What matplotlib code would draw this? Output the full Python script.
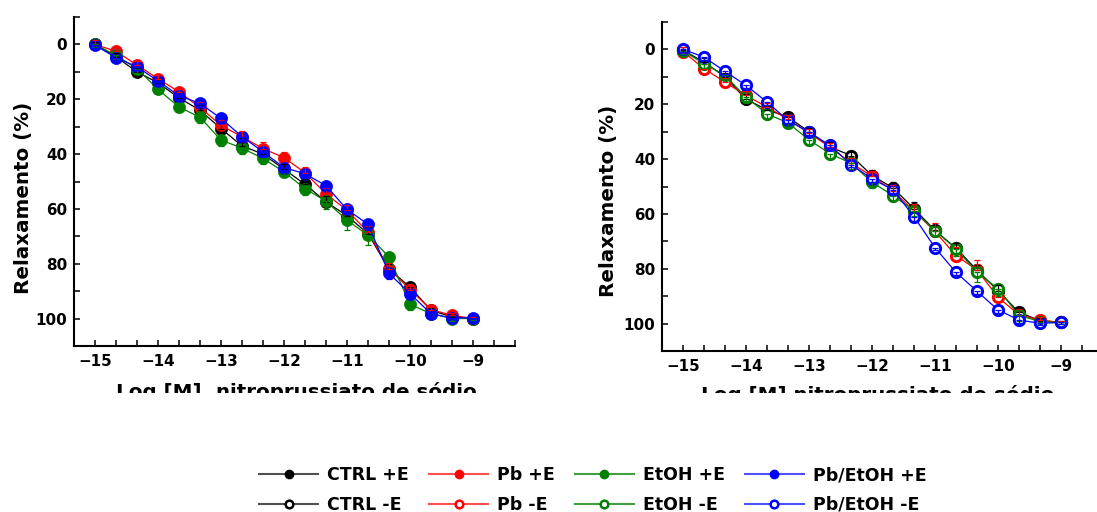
import numpy as np
import matplotlib.pyplot as plt
from matplotlib.lines import Line2D
from matplotlib.patches import Rectangle
from matplotlib.ticker import MultipleLocator

# log concentration of sodium nitroprusside (M)
log_conc = [-15.0, -14.667, -14.333, -14.0, -13.667, -13.333, -13.0, -12.667,
            -12.333, -12.0, -11.667, -11.333, -11.0, -10.667, -10.333, -10.0,
            -9.667, -9.333, -9.0]

groups = ["CTRL", "Pb", "EtOH", "Pb/EtOH"]
colors = ["#000000", "#ff0000", "#008000", "#0000ff"]
legend_line_colors = ["#505050", "#ff5050", "#40a040", "#5050ff"]

# +E (filled markers, left panel)
ctrl_pos = [0, 4.5, 10, 14, 19.5, 24, 30.7, 37, 40, 45.5, 51, 57.4, 62.5, 69, 82, 88.5, 97, 99.4, 100]
pb_pos = [0, 2.5, 7.5, 12.5, 17.3, 23, 29.5, 33.7, 38, 41.3, 46.8, 54.5, 60.5, 68.4, 81.8, 89.4, 96.7, 98.8, 100]
etoh_pos = [0, 4, 8.8, 16.4, 22.8, 26.6, 34.9, 37.8, 41.6, 46.5, 52.6, 57.2, 64.1, 69.6, 77.5, 94.8, 98.2, 100, 100]
pbetoh_pos = [0.3, 4.8, 8.2, 13.3, 18.7, 21.5, 27, 33.6, 39.2, 44.9, 47.2, 51.5, 60.2, 65.6, 83.5, 90.9, 98.2, 99.8, 99.7]

err_ctrl_pos = [1, 1.5, 1.5, 1.5, 2, 2, 2, 3, 2, 2, 2, 2, 2.5, 2.5, 2, 2, 1, 1, 0.5]
err_pb_pos = [1.5, 1.5, 1.5, 1.5, 1.5, 2, 2, 2, 2.5, 2, 2, 2, 2, 2, 2, 2, 1.5, 1, 0.5]
err_etoh_pos = [1, 1.5, 1.5, 1.5, 2, 2, 2, 2, 2, 2, 2.5, 3, 3.5, 3.5, 2, 2, 1, 1, 0.5]
err_pbetoh_pos = [1, 1, 1, 1, 1.5, 1.5, 1.5, 1.5, 1.5, 1.5, 1.5, 1.5, 1.5, 2, 2, 1.5, 1, 0.5, 0.5]

# -E (open markers, right panel)
ctrl_neg = [0.3, 4.6, 10, 18.2, 22, 24.7, 30, 35.6, 38.7, 46, 50.5, 58.1, 66, 72.5, 80.5, 88, 95.9, 98.9, 99.6]
pb_neg = [0.8, 7, 11.9, 16.8, 21, 25.5, 30.5, 35.6, 41.5, 46.2, 51.5, 59, 66.4, 75.2, 80.4, 90.4, 96.8, 98.7, 99.6]
etoh_neg = [0.5, 5.2, 9.5, 17.4, 23.5, 26.8, 33, 38, 41.5, 48.4, 53.3, 58.8, 66.1, 72.7, 81.3, 87.3, 97, 99.3, 99.6]
pbetoh_neg = [0, 2.8, 8, 13.1, 19.2, 25.9, 30.2, 35, 42, 47.2, 51.2, 61, 72.3, 81.3, 88.2, 95, 98.7, 99.9, 99.6]

err_ctrl_neg = [1, 1.5, 1.5, 2, 1.5, 1.5, 1.5, 2, 1.5, 2, 2, 2.5, 2, 2, 2, 2, 1.5, 1, 0.5]
err_pb_neg = [1.5, 1.5, 1.5, 1.5, 1.5, 1.5, 1.5, 1.5, 2, 2, 2, 2.5, 3, 3, 3.5, 3, 2, 1, 0.5]
err_etoh_neg = [1, 1.5, 1.5, 2, 2, 2, 2, 2, 2, 2, 2, 2, 2, 2.5, 3.5, 2.5, 2, 1, 0.5]
err_pbetoh_neg = [1, 1, 1, 1, 1, 1, 1, 1, 1, 1, 1, 1.5, 1, 1, 1, 1, 1, 0.5, 0.5]

y_ticks = [0, 20, 40, 60, 80, 100]
x_ticks = [-15, -14, -13, -12, -11, -10, -9]

plt.rcParams['font.family'] = 'DejaVu Sans'
plt.rcParams['font.weight'] = 'bold'

fig = plt.figure(figsize=(10.97, 5.12), dpi=100)
W, H = 1097.0, 512.0

# axes placed in pixels: left, top, width, height
ax1 = fig.add_axes([74 / W, 1 - 346 / H, 441 / W, 329 / H])
ax2 = fig.add_axes([662 / W, 1 - 351 / H, 441 / W, 329 / H])


def draw_panel(ax, series, errs, filled, err_down):
    for k, (vals, c) in enumerate(zip(series, colors)):
        if filled:
            ax.plot(log_conc, vals, color=c, lw=0.9, marker='o', ms=8.7,
                    mfc=c, mec=c, mew=0.5, zorder=2 + k)
        else:
            ax.plot(log_conc, vals, color=c, lw=0.9, marker='o', ms=7.4,
                    mfc='white', mec=c, mew=2.1, zorder=2 + k)
    # error bars drawn on top of the markers
    for k, (vals, e, c) in enumerate(zip(series, errs, colors)):
        zero = [0] * len(e)
        yerr = [zero, e] if err_down[k] else [e, zero]
        ax.errorbar(log_conc, vals, yerr=yerr, fmt='none', ecolor=c,
                    elinewidth=0.9, capsize=2.5, capthick=0.9, zorder=10 + k)


def style_axes(ax, xlabel, xlab_x, xlab_y, ylab_x, ylab_y):
    ax.set_xlim(-15.333, -8.333)
    ax.set_ylim(110, -10)
    ax.set_yticks(y_ticks)
    ax.yaxis.set_minor_locator(MultipleLocator(10))
    ax.set_xticks(x_ticks)
    ax.xaxis.set_minor_locator(MultipleLocator(1 / 3))
    for s in ['top', 'right']:
        ax.spines[s].set_visible(False)
    for s in ['left', 'bottom']:
        ax.spines[s].set_linewidth(1.5)
    ax.tick_params(which='both', direction='in', length=4.3, width=1.1,
                   labelsize=10.9)
    ax.tick_params(axis='y', pad=5)
    ax.tick_params(axis='x', pad=5.5)
    for lab in ax.get_xticklabels() + ax.get_yticklabels():
        lab.set_fontweight('bold')
    ax.set_ylabel("Relaxamento (%)", fontsize=14.3, fontweight='bold')
    ax.set_xlabel(xlabel, fontsize=14.3, fontweight='bold')
    ax.xaxis.set_label_coords(xlab_x, xlab_y)
    ax.yaxis.set_label_coords(ylab_x, ylab_y)


draw_panel(ax1, [ctrl_pos, pb_pos, etoh_pos, pbetoh_pos],
           [err_ctrl_pos, err_pb_pos, err_etoh_pos, err_pbetoh_pos],
           True, [False, False, True, True])
draw_panel(ax2, [ctrl_neg, pb_neg, etoh_neg, pbetoh_neg],
           [err_ctrl_neg, err_pb_neg, err_etoh_neg, err_pbetoh_neg],
           False, [False, False, True, True])

style_axes(ax1, "Log [M], nitroprussiato de sódio", 0.505, -0.108, -0.094, 0.45)
style_axes(ax2, "Log [M] nitroprussiato de sódio", 0.49, -0.102, -0.10, 0.456)

# the original export cuts the x labels off; mimic with a white band
fig.patches.append(Rectangle((0, (H - 462) / H), 1, (462 - 393) / H,
                             transform=fig.transFigure, facecolor='white',
                             edgecolor='none', zorder=1))

# legend: columns are groups, rows are +E / -E
handles, labels = [], []
for g, c, lc in zip(groups, colors, legend_line_colors):
    handles.append(Line2D([], [], color=lc, lw=1.5, marker='o', ms=6,
                          mfc=c, mec=c))
    labels.append(g + " +E")
    handles.append(Line2D([], [], color=lc, lw=1.5, marker='o', ms=5.5,
                          mfc='white', mec=c, mew=1.8))
    labels.append(g + " -E")

fig.legend(handles, labels, ncol=4, loc='center', bbox_to_anchor=(593 / W, 1 - 490 / H),
           frameon=False, prop={'size': 12.5, 'weight': 'bold'},
           handlelength=3.4, handletextpad=0.52, columnspacing=1.15,
           labelspacing=0.65, borderpad=0.2)

fig.savefig("out.png", dpi=100, facecolor='white')
